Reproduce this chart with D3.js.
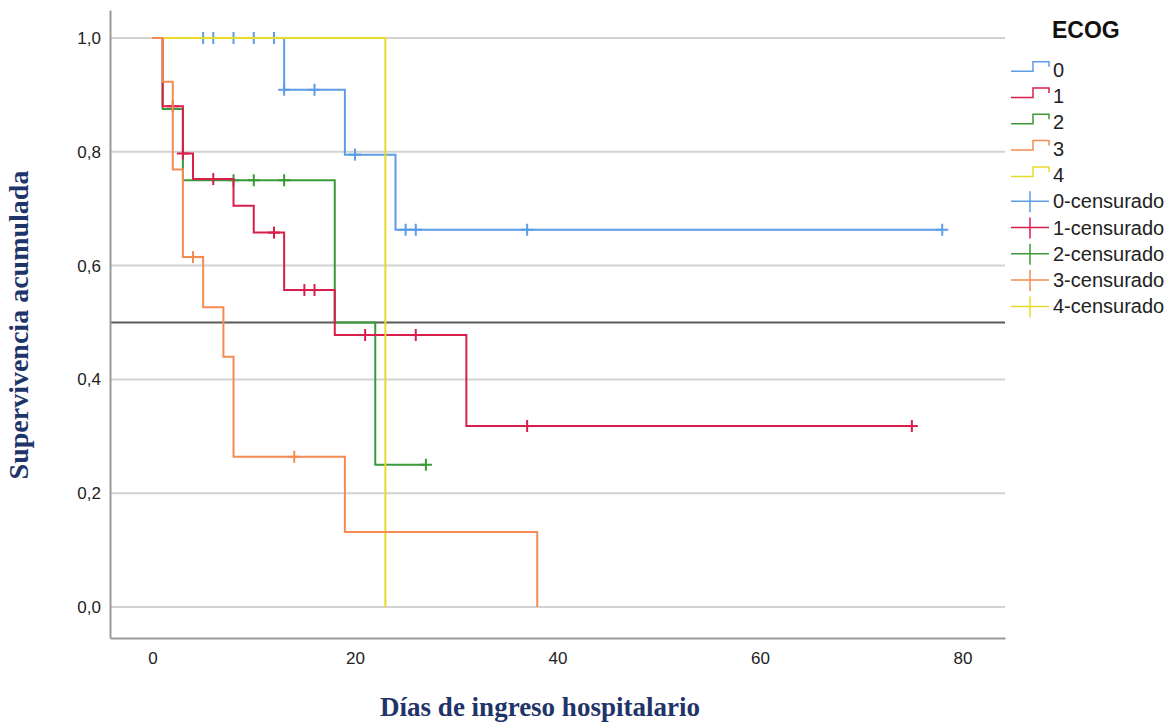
<!DOCTYPE html>
<html>
<head>
<meta charset="utf-8">
<script src="https://cdn.jsdelivr.net/npm/d3@7"></script>
<style>
  body { margin: 0; background: #fff; }
  svg { display: block; }
</style>
</head>
<body>
<div id="chart"></div>
<script>
// Kaplan-Meier curves by ECOG group
const groups = ["0", "1", "2", "3", "4"];
const colors = ["#5d9ce6", "#d81e4b", "#3a9a3a", "#f58b52", "#e6dc28"];

// event times and survival right after each event
const times0 = [0, 13, 19, 24];
const surv0 = [1, 0.909, 0.795, 0.663];
const cens0 = [5, 6, 8, 10, 12, 13, 16, 20, 25, 26, 37, 78];

const times1 = [0, 1, 3, 4, 8, 10, 13, 18, 31];
const surv1 = [1, 0.88, 0.797, 0.752, 0.705, 0.658, 0.557, 0.478, 0.318];
const cens1 = [2, 3, 6, 12, 15, 16, 21, 26, 37, 75];

const times2 = [0, 1, 3, 18, 22];
const surv2 = [1, 0.875, 0.75, 0.5, 0.25];
const cens2 = [8, 10, 13, 27];

const times3 = [0, 1, 2, 3, 5, 7, 8, 19, 38];
const surv3 = [1, 0.923, 0.769, 0.615, 0.527, 0.44, 0.264, 0.132, 0];
const cens3 = [4, 14];

const times4 = [0, 23];
const surv4 = [1, 0];
const cens4 = [];

const xTicks = [0, 20, 40, 60, 80];
const yTicks = [0, 0.2, 0.4, 0.6, 0.8, 1.0];
const refLine = 0.5;

const series = [
    { name: "0", times: times0, surv: surv0, cens: cens0 },
    { name: "1", times: times1, surv: surv1, cens: cens1 },
    { name: "2", times: times2, surv: surv2, cens: cens2 },
    { name: "3", times: times3, surv: surv3, cens: cens3 },
    { name: "4", times: times4, surv: surv4, cens: cens4 }
].map((s, i) => ({ ...s, color: colors[i] }));

const width = 1172, height = 724;
const plot = { left: 110, right: 1005, top: 10, bottom: 638 };

const svg = d3.select("#chart")
    .append("svg")
    .attr("width", width)
    .attr("height", height);

const x = d3.scaleLinear().domain([-4.2, 84.2]).range([plot.left, plot.right]);
const y = d3.scaleLinear().domain([-0.0545, 1.0492]).range([plot.bottom, plot.top]);

// gridlines
svg.append("g")
    .selectAll("line")
    .data(yTicks)
    .join("line")
    .attr("x1", plot.left)
    .attr("x2", plot.right)
    .attr("y1", d => y(d))
    .attr("y2", d => y(d))
    .attr("stroke", "#d2d2d2")
    .attr("stroke-width", 2);

// reference line at 0.5
svg.append("line")
    .attr("x1", plot.left)
    .attr("x2", plot.right)
    .attr("y1", y(refLine))
    .attr("y2", y(refLine))
    .attr("stroke", "#5a5a5a")
    .attr("stroke-width", 2);

// axes
const fmt = d => d3.format(".1f")(d).replace(".", ",");

const xAxis = svg.append("g")
    .attr("transform", `translate(0,${plot.bottom})`)
    .call(d3.axisBottom(x).tickValues(xTicks).tickSize(0).tickPadding(14));

const yAxis = svg.append("g")
    .attr("transform", `translate(${plot.left},0)`)
    .call(d3.axisLeft(y).tickValues(yTicks).tickFormat(fmt).tickSize(0).tickPadding(9));

[xAxis, yAxis].forEach(g => {
    g.select(".domain").attr("stroke", "#9a9a9a").attr("stroke-width", 2);
    g.selectAll("text")
        .attr("fill", "#222")
        .style("font-family", "Arial, 'Liberation Sans', sans-serif")
        .style("font-size", "17px");
});

// step path for a curve
function stepPoints(s) {
    const pts = [];
    s.times.forEach((t, i) => {
        if (i > 0) pts.push([t, s.surv[i - 1]]);
        pts.push([t, s.surv[i]]);
    });
    const end = d3.max([s.times[s.times.length - 1], ...s.cens]);
    pts.push([end, s.surv[s.surv.length - 1]]);
    return pts;
}

function survAt(s, t) {
    let v = s.surv[0];
    s.times.forEach((tt, i) => { if (tt <= t) v = s.surv[i]; });
    return v;
}

const line = d3.line().x(d => x(d[0])).y(d => y(d[1]));

// drawing order so overlaps look like the original
const order = [0, 2, 1, 4, 3];

order.forEach(i => {
    const s = series[i];
    const g = svg.append("g");
    g.append("path")
        .datum(stepPoints(s))
        .attr("d", line)
        .attr("fill", "none")
        .attr("stroke", s.color)
        .attr("stroke-width", 2);

    // censored marks (+)
    const marks = g.selectAll(".cens")
        .data(s.cens)
        .join("g")
        .attr("transform", d => `translate(${x(d)},${y(survAt(s, d))})`);
    marks.append("line")
        .attr("x1", 0).attr("x2", 0).attr("y1", -6).attr("y2", 6)
        .attr("stroke", s.color).attr("stroke-width", 2);
    marks.append("line")
        .attr("x1", -6).attr("x2", 6).attr("y1", 0).attr("y2", 0)
        .attr("stroke", s.color).attr("stroke-width", 2);
});

// legend
const legend = svg.append("g").attr("transform", "translate(1011,0)");
legend.append("text")
    .attr("x", 41)
    .attr("y", 38)
    .text("ECOG")
    .style("font-family", "Arial, 'Liberation Sans', sans-serif")
    .style("font-size", "23px")
    .style("font-weight", "bold")
    .attr("fill", "#111");

const legendItems = [
    ...series.map(s => ({ label: s.name, color: s.color, kind: "step" })),
    ...series.map(s => ({ label: s.name + "-censurado", color: s.color, kind: "cens" }))
];

const item = legend.selectAll(".item")
    .data(legendItems)
    .join("g")
    .attr("transform", (d, i) => `translate(0,${69.7 + i * 26.3})`);

item.filter(d => d.kind === "step")
    .append("path")
    .attr("d", "M0,1.5H22V-8H38V-3")
    .attr("fill", "none")
    .attr("stroke", d => d.color)
    .attr("stroke-width", 1.5);

const ci = item.filter(d => d.kind === "cens");
ci.append("line")
    .attr("x1", 0).attr("x2", 38).attr("y1", 0).attr("y2", 0)
    .attr("stroke", d => d.color).attr("stroke-width", 1.5);
ci.append("line")
    .attr("x1", 19).attr("x2", 19).attr("y1", -10).attr("y2", 11)
    .attr("stroke", d => d.color).attr("stroke-width", 1.5);

item.append("text")
    .attr("x", 42)
    .attr("y", 7)
    .text(d => d.label)
    .style("font-family", "Arial, 'Liberation Sans', sans-serif")
    .style("font-size", "20px")
    .attr("fill", "#222");

// axis titles
svg.append("text")
    .attr("x", 540)
    .attr("y", 716)
    .attr("text-anchor", "middle")
    .text("Días de ingreso hospitalario")
    .style("font-family", "'Times New Roman', 'Liberation Serif', serif")
    .style("font-size", "27px")
    .style("font-weight", "bold")
    .attr("fill", "#1f3468");

svg.append("text")
    .attr("transform", "translate(28,325) rotate(-90)")
    .attr("text-anchor", "middle")
    .text("Supervivencia acumulada")
    .style("font-family", "'Times New Roman', 'Liberation Serif', serif")
    .style("font-size", "28px")
    .style("font-weight", "bold")
    .attr("fill", "#1f3468");
</script>
</body>
</html>
